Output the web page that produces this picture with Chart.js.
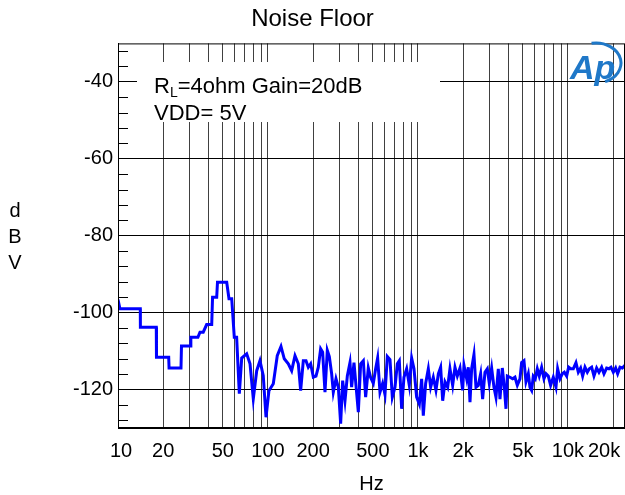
<!DOCTYPE html>
<html>
<head>
<meta charset="utf-8">
<script src="https://cdn.jsdelivr.net/npm/chart.js@4.4.0/dist/chart.umd.min.js"></script>
<style>
  html, body { margin: 0; padding: 0; background: #fff; overflow: hidden; }
</style>
</head>
<body>
<canvas id="noiseChart" width="625" height="495"></canvas>
<script>
// frequency (Hz) and level (dBV)
const freqHz = [
  10, 10.3, 14.08, 14.1, 18.0, 18.05, 21.78, 21.9, 26.3, 26.5,
  30.34, 30.6, 34.1, 35.2, 37.0, 39.0, 42.15, 42.7, 45.5, 46.06,
  53.06, 54.95, 57.3, 59.6, 61.8, 64.4, 66.8, 72.1, 75.9, 79.8,
  84.1, 88.4, 93.0, 97.0, 101.5, 108.5, 115.3, 122.1, 128.4, 136.6,
  143.8, 151.4, 159.3, 165.1, 172.0, 179.2, 185.7, 192.5, 200.6, 208.9,
  216.5, 224.4, 231.4, 239.9, 248.6, 256.4, 265.7, 272.6, 284.0, 294.4,
  305.1, 314.6, 326.1, 338.0, 352.1, 361.2, 374.4, 386.1, 400.2, 414.8,
  432.1, 447.8, 466.5, 483.5, 503.7, 522.1, 538.4, 558.1, 581.4, 602.6,
  624.6, 650.7, 674.5, 702.6, 728.2, 750.9, 778.2, 806.6, 840.2, 875.3,
  907.3, 940.4, 979.7, 1021, 1058, 1085, 1125, 1172, 1215, 1265,
  1318, 1367, 1416, 1461, 1514, 1577, 1634, 1703, 1765, 1829,
  1906, 1985, 2026, 2111, 2166, 2222, 2279, 2362, 2436, 2525,
  2617, 2698, 2797, 2899, 2989, 3098, 3211, 3311, 3432, 3521,
  3649, 3763, 3861, 3941, 4105, 4276, 4432, 4594, 4786, 4910,
  5089, 5248, 5440, 5580, 5724, 5872, 6055, 6244, 6438, 6673,
  6918, 7134, 7394, 7663, 7984, 8318, 8532, 8844, 9165, 9452,
  9798, 10103, 10418, 10854, 11306, 11720, 12145, 12526, 12981, 13456,
  13875, 14381, 14905, 15528, 16095, 16765, 17378, 18103, 18763, 19350,
  20056, 20790, 21439, 22222, 23032, 23988
];
const noiseDbv = [
  -96.6, -99.0, -99.0, -103.8, -103.8, -111.6, -111.6, -114.4, -114.4, -108.7,
  -108.7, -106.4, -106.4, -105.1, -105.1, -103.1, -103.1, -96.0, -96.0, -92.1,
  -92.1, -96.4, -96.4, -106.4, -106.4, -121.1, -111.8, -110.7, -113.3, -122.4,
  -115.1, -112.5, -116.4, -127.2, -120.3, -118.5, -111.2, -108.8, -112.0, -113.3,
  -115.1, -111.2, -113.3, -120.3, -112.5, -112.5, -114.2, -113.3, -116.8, -116.5,
  -114.2, -109.4, -110.3, -120.7, -109.8, -111.4, -115.9, -120.7, -117.2, -119.4,
  -128.9, -117.7, -122.9, -116.5, -113.0, -119.4, -113.0, -118.9, -125.9, -113.3,
  -112.5, -122.0, -114.4, -116.9, -118.4, -114.6, -111.8, -120.7, -118.4, -121.3,
  -111.4, -112.2, -122.0, -119.4, -113.3, -112.5, -125.0, -116.8, -114.6, -118.9,
  -111.8, -114.6, -122.0, -123.8, -117.2, -126.8, -118.4, -114.6, -119.4, -116.8,
  -120.2, -115.9, -114.2, -122.9, -118.0, -119.4, -114.6, -118.9, -114.2, -116.5,
  -114.4, -120.2, -113.7, -117.2, -114.2, -123.3, -114.6, -110.9, -119.4, -118.9,
  -115.9, -122.5, -115.5, -114.6, -118.4, -114.4, -119.4, -122.0, -114.6, -122.5,
  -114.4, -119.4, -125.0, -116.5, -116.8, -117.2, -116.8, -118.9, -117.2, -113.0,
  -112.5, -118.0, -115.9, -119.4, -120.2, -116.5, -117.2, -114.6, -116.5, -114.2,
  -117.2, -115.9, -116.5, -118.9, -116.8, -119.4, -114.6, -117.2, -115.9, -115.5,
  -116.5, -114.2, -114.6, -114.6, -113.0, -115.5, -114.4, -116.5, -114.2, -115.5,
  -114.6, -114.2, -116.5, -114.4, -115.5, -114.2, -115.9, -114.4, -114.6, -114.2,
  -115.5, -114.4, -115.9, -114.2, -114.4, -113.7
];

// axis ticks
const xGridTicks = [
  10, 20, 30, 40, 50, 60, 70, 80, 90,
  100, 200, 300, 400, 500, 600, 700, 800, 900,
  1000, 2000, 3000, 4000, 5000, 6000, 7000, 8000, 9000,
  10000, 20000
];
const xLabelTicks = [10, 20, 50, 100, 200, 500, 1000, 2000, 5000, 10000, 20000];
const yMinorTicks = [
  -128, -124, -120, -116, -112, -108, -104, -100, -96, -92, -88, -84, -80,
  -76, -72, -68, -64, -60, -56, -52, -48, -44, -40, -36, -32
];
const yLabelTicks = [-120, -100, -80, -60, -40];

const FONT = '"Liberation Sans", Arial, sans-serif';

// nudge the end labels so they sit inside the canvas like the original
const edgeLabels = {
  id: 'edgeLabels',
  beforeDraw(chart) {
    const items = chart.scales.x.getLabelItems(chart.chartArea);
    items.forEach(item => {
      if (item.label === '10') item.options.translation[0] += 3;
      if (item.label === '20k') item.options.translation[0] -= 9;
    });
  }
};

// frame, minor ticks, note box, logo and stacked axis title
const decorations = {
  id: 'decorations',
  afterDraw(chart) {
    const ctx = chart.ctx;
    const area = chart.chartArea;
    const yScale = chart.scales.y;
    ctx.save();

    // white box behind the note text
    ctx.fillStyle = '#fff';
    ctx.fillRect(137, 62, 303, 60);

    // minor ticks on the left edge
    ctx.strokeStyle = '#000';
    ctx.lineWidth = 1;
    ctx.beginPath();
    yMinorTicks.forEach(v => {
      if (yLabelTicks.includes(v)) return;
      const py = Math.round(yScale.getPixelForValue(v)) + 0.5;
      ctx.moveTo(area.left, py);
      ctx.lineTo(area.left + 10, py);
    });
    ctx.stroke();

    // plot frame
    ctx.strokeRect(area.left + 0.5, area.top + 0.5, area.right - area.left - 1, area.bottom - area.top - 1);

    // note text
    ctx.fillStyle = '#000';
    ctx.textBaseline = 'alphabetic';
    ctx.textAlign = 'left';
    ctx.font = '22px ' + FONT;
    ctx.fillText('R', 154, 93);
    let x = 154 + ctx.measureText('R').width;
    ctx.font = '14px ' + FONT;
    ctx.fillText('L', x, 97);
    x += ctx.measureText('L').width;
    ctx.font = '22px ' + FONT;
    ctx.fillText('=4ohm Gain=20dB', x, 93);
    ctx.fillText('VDD= 5V', 154, 120);

    // Ap logo
    ctx.fillStyle = '#1f78c8';
    ctx.strokeStyle = '#1f78c8';
    ctx.font = 'italic bold 34px ' + FONT;
    ctx.fillText('Ap', 570, 79);
    ctx.lineWidth = 3;
    ctx.beginPath();
    ctx.ellipse(596, 63, 25, 20, 0, -1.75, 1.2);
    ctx.stroke();

    // y axis title, one letter per line
    ctx.fillStyle = '#000';
    ctx.font = '20px ' + FONT;
    ctx.textAlign = 'center';
    ctx.textBaseline = 'middle';
    ['d', 'B', 'V'].forEach((ch, i) => ctx.fillText(ch, 15, 211 + i * 26));

    ctx.restore();
  }
};

const points = freqHz.map((f, i) => ({ x: f, y: noiseDbv[i] }));

new Chart(document.getElementById('noiseChart'), {
  type: 'line',
  data: {
    datasets: [{
      data: points,
      borderColor: '#0000ff',
      borderWidth: 3,
      pointRadius: 0,
      tension: 0,
      fill: false
    }]
  },
  options: {
    responsive: false,
    animation: false,
    layout: { padding: 0 },
    plugins: {
      legend: { display: false },
      tooltip: { enabled: false },
      title: {
        display: true,
        text: 'Noise Floor',
        color: '#000',
        font: { family: FONT, size: 24, weight: 'normal' },
        padding: { top: 5, bottom: 9.6 }
      }
    },
    scales: {
      x: {
        type: 'logarithmic',
        min: 10,
        max: 24000,
        afterBuildTicks: scale => { scale.ticks = xGridTicks.map(v => ({ value: v })); },
        afterFit: scale => {
          scale.height = 67;
          scale.paddingLeft = 0;
          scale.paddingRight = 0;
        },
        ticks: {
          autoSkip: false,
          maxRotation: 0,
          padding: 11,
          color: '#000',
          font: { family: FONT, size: 20 },
          callback: v => {
            if (!xLabelTicks.includes(v)) return '';
            return v >= 1000 ? (v / 1000) + 'k' : String(v);
          }
        },
        grid: { color: '#404040', lineWidth: 1, drawTicks: false },
        border: { display: true, color: '#000' },
        title: {
          display: true,
          text: 'Hz',
          color: '#000',
          font: { family: FONT, size: 20 },
          padding: { top: 0, bottom: -1 }
        }
      },
      y: {
        type: 'linear',
        min: -130,
        max: -30,
        afterBuildTicks: scale => { scale.ticks = yMinorTicks.map(v => ({ value: v })); },
        afterFit: scale => { scale.width = 118; },
        ticks: {
          autoSkip: false,
          padding: 5,
          color: '#000',
          font: { family: FONT, size: 20 },
          callback: v => (yLabelTicks.includes(v) ? String(v) : '')
        },
        grid: {
          drawTicks: false,
          lineWidth: 1,
          color: c => (c.tick && yLabelTicks.includes(c.tick.value) ? '#000' : 'rgba(0,0,0,0)')
        },
        border: { display: true, color: '#000' }
      }
    }
  },
  plugins: [edgeLabels, decorations]
});
</script>
</body>
</html>
